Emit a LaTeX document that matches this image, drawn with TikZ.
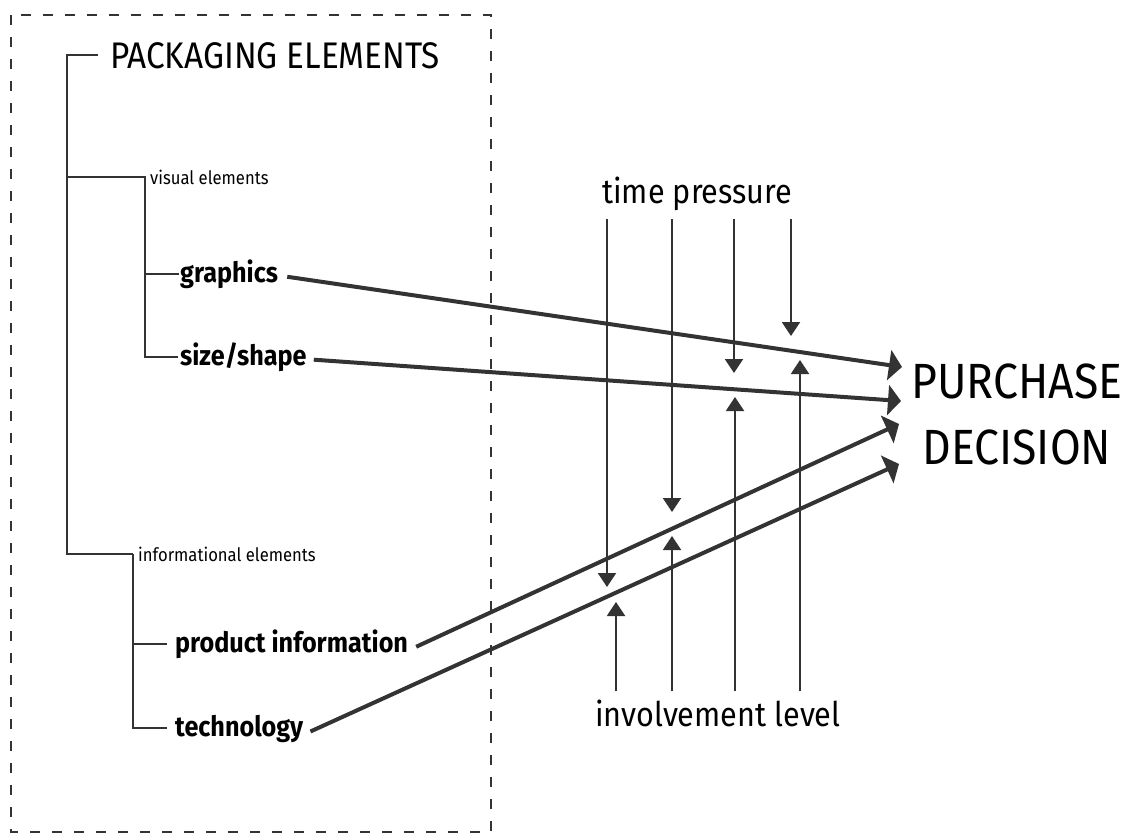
\documentclass[tikz,border=0pt]{standalone}
\usepackage{fontspec}
\setmainfont{Fira Sans}[FakeStretch=0.9]
\usetikzlibrary{arrows.meta}
\definecolor{linegray}{HTML}{333333}

\begin{document}
\begin{tikzpicture}[x=1pt,y=-1pt,
    tree/.style={linegray, line width=2pt},
    effect/.style={linegray, line width=2pt, -{Triangle[length=14pt,width=18pt]}},
    link/.style={linegray, line width=4pt, -{Triangle[length=13pt,width=30pt]}},
    lbl/.style={anchor=base west, inner sep=0pt},
    item/.style={lbl, font=\bfseries\fontsize{28}{32}\selectfont},
    group/.style={lbl, font=\fontsize{18.5}{22}\selectfont},
    factor/.style={lbl, font=\fontsize{34}{40}\selectfont}]
    \useasboundingbox (0,0) rectangle (1133,836);
    \draw[linegray, line width=1.8pt, dash pattern=on 10pt off 12pt] (11,15) rectangle (491,832);
    % labels
    \node[lbl, font=\fontsize{37}{42}\selectfont] (pkg) at (110,68) {PACKAGING ELEMENTS};
    \node[group] (vis) at (150,184) {visual elements};
    \node[group] (inf) at (138,561) {informational elements};
    \node[item] (gra) at (180,282) {graphics};
    \node[item] (siz) at (180,365) {size/shape};
    \node[item] (pro) at (175,652) {product information};
    \node[item] (tec) at (175,736) {technology};
    \node[factor] (tp) at (602,203) {time pressure};
    \node[factor] (il) at (595,726) {involvement level};
    \node[anchor=north, inner sep=0pt, align=center, font=\fontsize{49.5}{66}\selectfont] (pd) at (1017,364) {PURCHASE\\DECISION};
    % tree
    \coordinate (trunk) at (67,0);
    \draw[tree] ([xshift=-12pt]pkg.west) -| (trunk |- inf.west) -- ([xshift=-5pt]inf.west);
    \draw[tree] (trunk |- vis.west) -- ([xshift=-5pt]vis.west) |- ([xshift=-2pt]siz.west);
    \draw[tree] ([xshift=-5pt]vis.west |- gra.west) -- ([xshift=-1pt]gra.west);
    \draw[tree] ([xshift=-5pt]inf.west) |- ([xshift=-8pt]tec.west);
    \draw[tree] ([xshift=-5pt]inf.west |- pro.west) -- ([xshift=-8pt]pro.west);
    % moderating factors
    \coordinate (tptop) at ([yshift=-9pt]tp.south);
    \coordinate (ilbot) at ([yshift=8pt]il.north);
    \foreach \x/\y in {607/587, 672/512, 734/373, 791/336}{
    \draw[effect] (tptop -| \x,0) -- (\x,\y);
    }
    \foreach \x/\y in {616/602, 672/536, 735/397, 800/360}{
    \draw[effect] (ilbot -| \x,0) -- (\x,\y);
    }
    % links to the decision
    \coordinate (in1) at (902,367);
    \coordinate (in2) at (901,401);
    \coordinate (in3) at (899,424);
    \coordinate (in4) at (899,464);
    \draw[link] ([xshift=9pt,yshift=-3pt]gra.east) -- (in1);
    \draw[link] ([xshift=7pt,yshift=-3pt]siz.east) -- (in2);
    \draw[link] ([xshift=8pt,yshift=-3pt]pro.east) -- (in3);
    \draw[link] ([xshift=7pt,yshift=-3pt]tec.east) -- (in4);
\end{tikzpicture}
\end{document}
